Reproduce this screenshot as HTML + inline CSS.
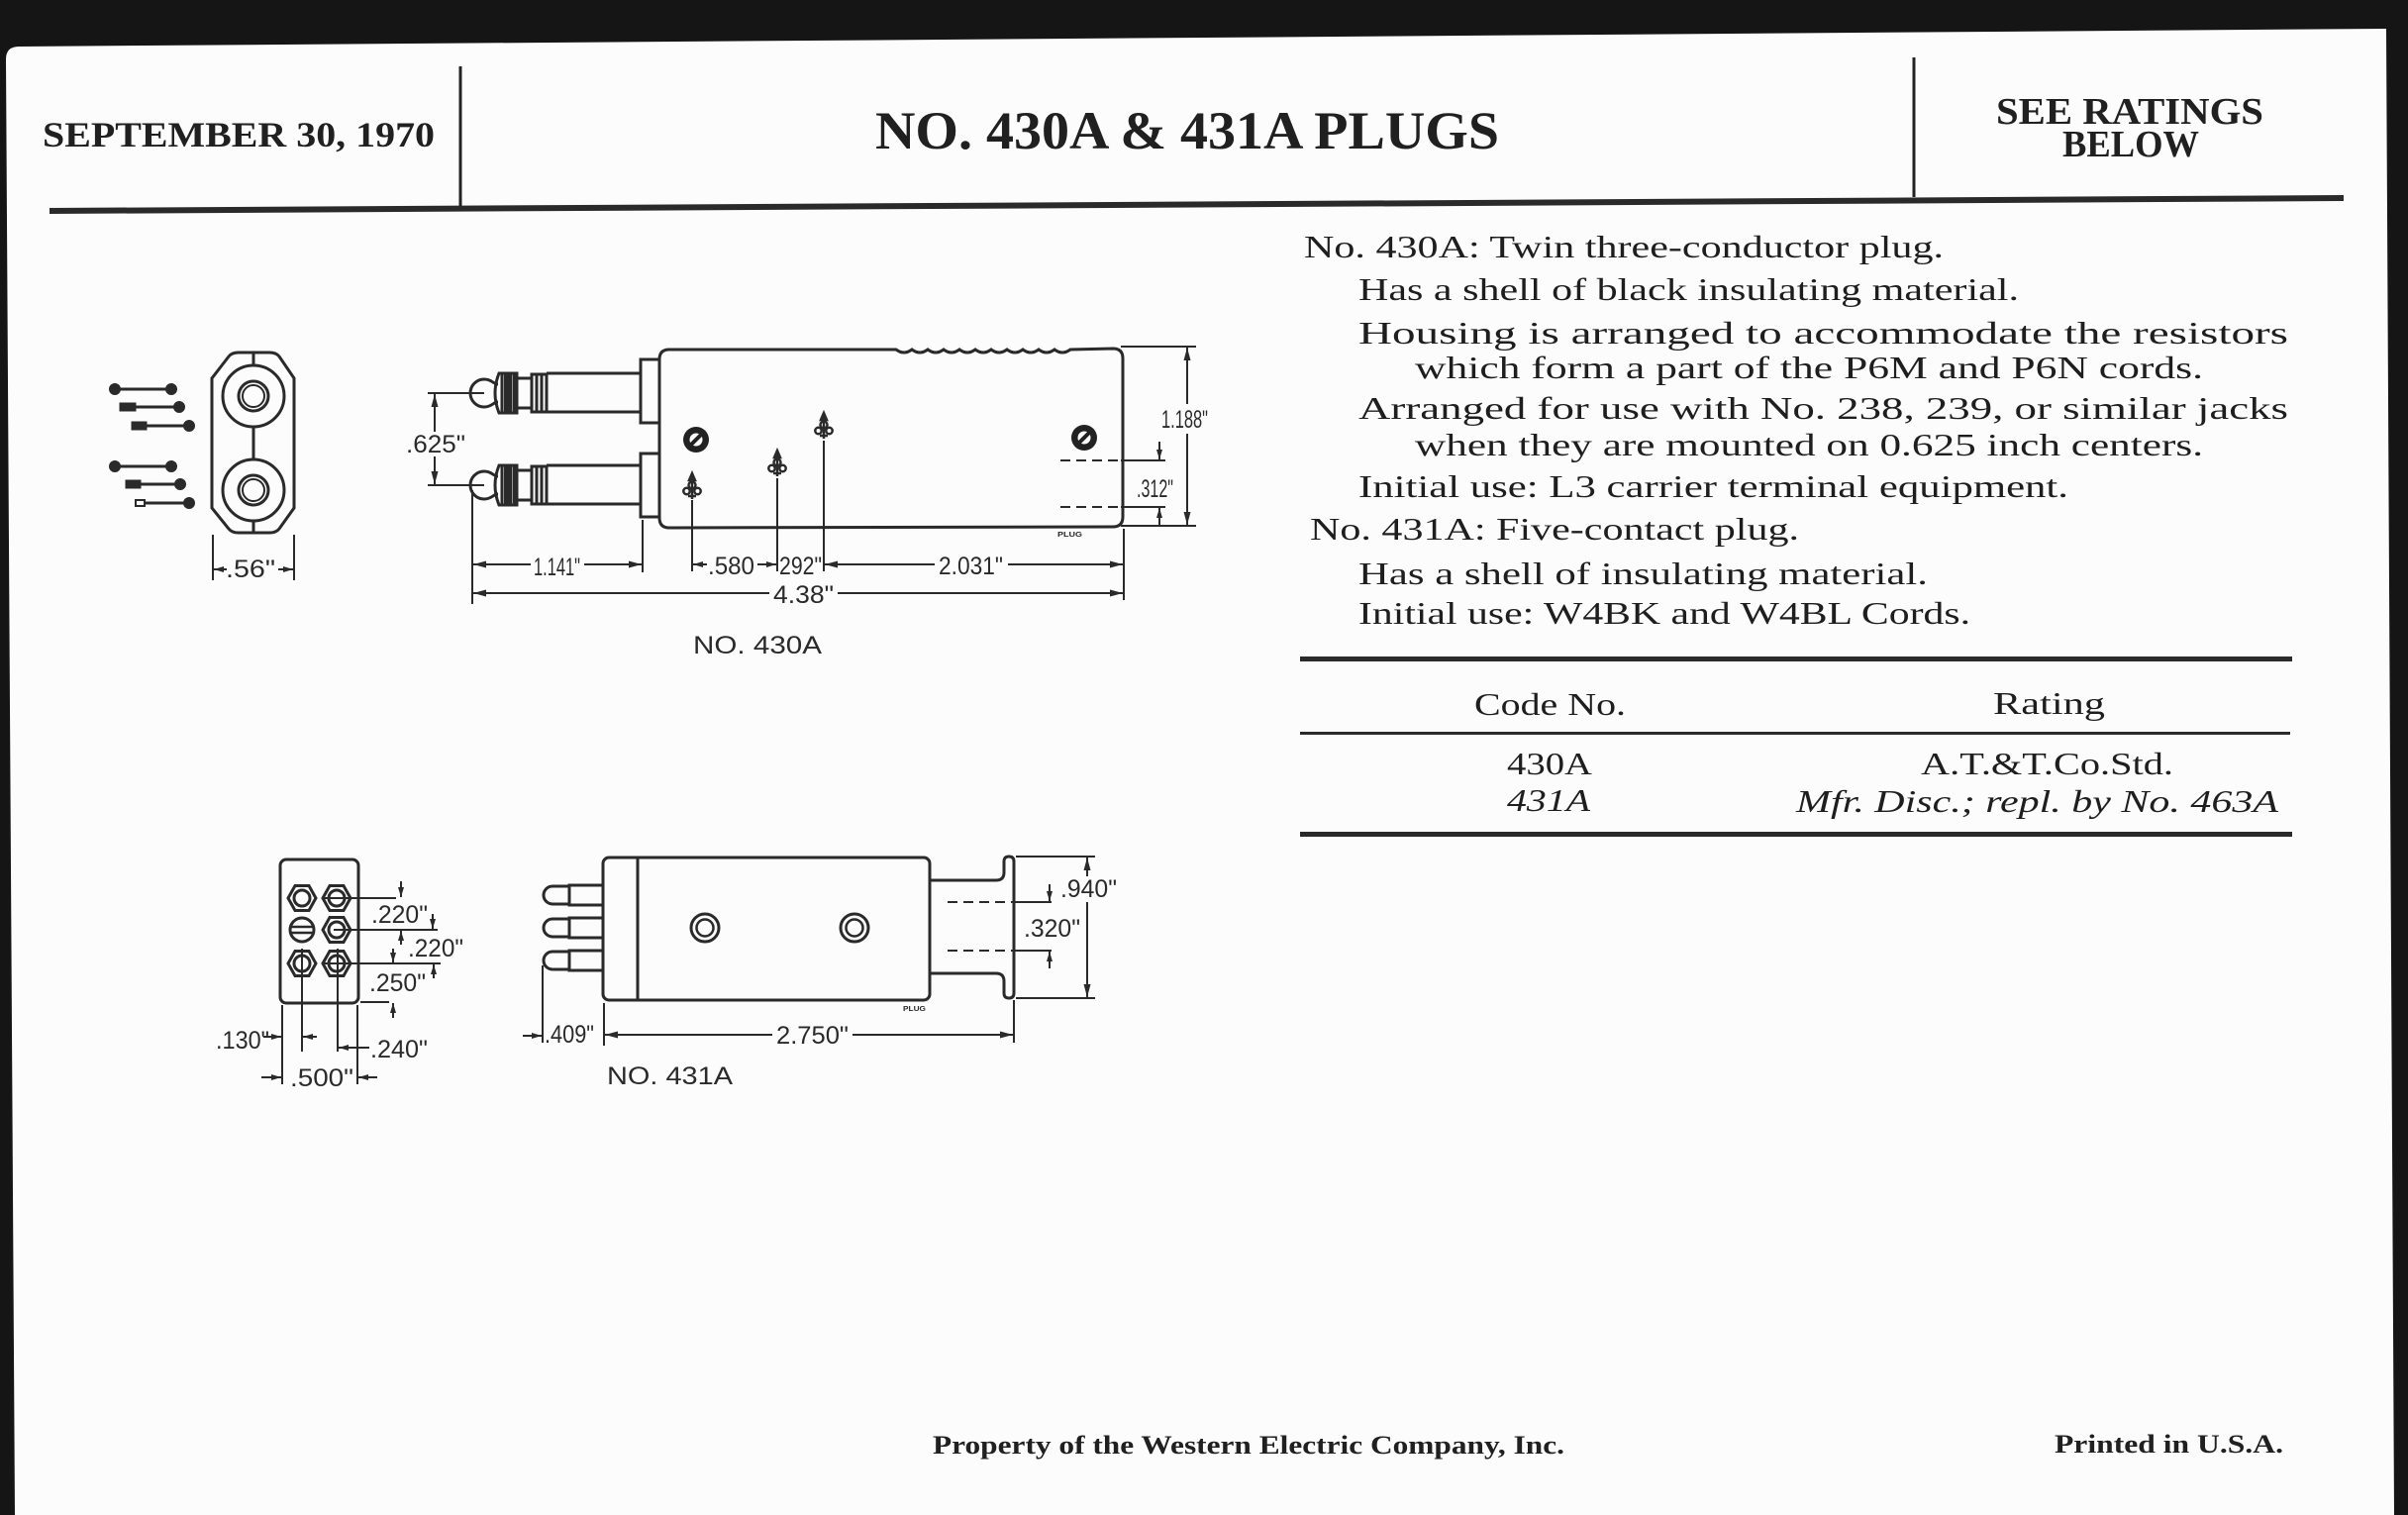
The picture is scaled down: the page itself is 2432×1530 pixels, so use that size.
<!DOCTYPE html>
<html><head><meta charset="utf-8"><style>
html,body{margin:0;padding:0;background:#151515}
svg{display:block}
.h{font-family:"Liberation Serif",serif;font-weight:bold;fill:#202020}
.b{font-family:"Liberation Serif",serif;fill:#1e1e1e;font-size:32px}
.i{font-style:italic}
.l{font-family:"Liberation Sans",sans-serif;fill:#2a2a2a;font-size:25px}
.d{stroke:#2a2a2a;stroke-width:2;fill:none}
.o{stroke:#2a2a2a;stroke-width:3;fill:none}
</style></head><body>
<svg width="2432" height="1530" viewBox="0 0 2432 1530" xmlns="http://www.w3.org/2000/svg">
<defs>
<marker id="ar" viewBox="0 0 13 8" refX="13" refY="4" markerWidth="13" markerHeight="8" markerUnits="userSpaceOnUse" orient="auto"><path d="M0,0.5 L13,4 L0,7.5 Z" fill="#2a2a2a"/></marker>
<marker id="as" viewBox="0 0 10 7" refX="10" refY="3.5" markerWidth="10" markerHeight="7" markerUnits="userSpaceOnUse" orient="auto"><path d="M0,0.5 L10,3.5 L0,6.5 Z" fill="#2a2a2a"/></marker>
<g id="fl" stroke="#2a2a2a" stroke-width="2.5" fill="none">
<path d="M0,-14 L-3,-7 L3,-7 Z" fill="#2a2a2a"/>
<circle cx="0" cy="-2" r="3.5"/>
<circle cx="-5.5" cy="4" r="3.2"/>
<circle cx="5.5" cy="4" r="3.2"/>
<line x1="0" y1="-14" x2="0" y2="12"/>
<line x1="-4" y1="9" x2="4" y2="9"/>
</g>
<g id="sc">
<circle r="13" fill="#222"/>
<circle r="6.5" fill="#fff"/>
<line x1="-8" y1="8" x2="8" y2="-8" stroke="#222" stroke-width="4"/>
</g>
<g id="pl" stroke="#2a2a2a" stroke-width="3" fill="none">
<path d="M503,-9 C498,-9 497,-14 489,-14 A14,14 0 0 0 489,14 C497,14 498,9 503,9"/>
<path d="M504,-20 L522,-20 L522,20 L504,20 Q500,10 500,0 Q500,-10 504,-20 Z"/>
<line x1="507" y1="-19" x2="507" y2="19"/>
<line x1="511" y1="-19" x2="511" y2="19" stroke-width="4"/>
<line x1="515" y1="-19" x2="515" y2="19" stroke-width="4"/>
<line x1="519" y1="-19" x2="519" y2="19"/>
<line x1="522" y1="-15" x2="537" y2="-15"/>
<line x1="522" y1="15" x2="537" y2="15"/>
<rect x="537" y="-19" width="15" height="38"/>
<line x1="542" y1="-18" x2="542" y2="18"/>
<line x1="547" y1="-18" x2="547" y2="18"/>
<path d="M552,-20 L647,-20 M552,19 L647,19"/>
</g>
<g id="pin" stroke="#2a2a2a" stroke-width="3" fill="none">
<path d="M575,-9 L558,-9 A9,9 0 0 0 558,9 L575,9"/>
<rect x="575" y="-10" width="34" height="20"/>
</g>
</defs>

<!-- paper -->
<rect width="2432" height="1530" fill="#151515"/>
<path d="M6,60 Q6,47 19,47 L2410,29 L2418,1530 L15,1530 Z" fill="#fcfcfc"/>

<!-- header -->
<line x1="465" y1="67" x2="465" y2="208" stroke="#222" stroke-width="3"/>
<line x1="1933" y1="58" x2="1933" y2="199" stroke="#222" stroke-width="3"/>
<path d="M50,210 L2367,197 L2367,203 L50,216 Z" fill="#2a2a2a"/>
<text class="h" x="43" y="148" font-size="36" textLength="396" lengthAdjust="spacingAndGlyphs">SEPTEMBER 30, 1970</text>
<text class="h" x="884" y="150" font-size="54" textLength="630" lengthAdjust="spacingAndGlyphs">NO. 430A &amp; 431A PLUGS</text>
<text class="h" x="2016" y="125" font-size="38" textLength="270" lengthAdjust="spacingAndGlyphs">SEE RATINGS</text>
<text class="h" x="2083" y="158" font-size="38" textLength="138" lengthAdjust="spacingAndGlyphs">BELOW</text>

<!-- description text -->
<text class="b" x="1317" y="260" textLength="646" lengthAdjust="spacingAndGlyphs">No. 430A: Twin three-conductor plug.</text>
<text class="b" x="1372" y="303" textLength="667" lengthAdjust="spacingAndGlyphs">Has a shell of black insulating material.</text>
<text class="b" x="1372" y="347" textLength="939" lengthAdjust="spacingAndGlyphs">Housing is arranged to accommodate the resistors</text>
<text class="b" x="1429" y="382" textLength="796" lengthAdjust="spacingAndGlyphs">which form a part of the P6M and P6N cords.</text>
<text class="b" x="1372" y="423" textLength="939" lengthAdjust="spacingAndGlyphs">Arranged for use with No. 238, 239, or similar jacks</text>
<text class="b" x="1429" y="460" textLength="796" lengthAdjust="spacingAndGlyphs">when they are mounted on 0.625 inch centers.</text>
<text class="b" x="1372" y="502" textLength="717" lengthAdjust="spacingAndGlyphs">Initial use: L3 carrier terminal equipment.</text>
<text class="b" x="1323" y="545" textLength="494" lengthAdjust="spacingAndGlyphs">No. 431A: Five-contact plug.</text>
<text class="b" x="1372" y="590" textLength="575" lengthAdjust="spacingAndGlyphs">Has a shell of insulating material.</text>
<text class="b" x="1372" y="630" textLength="618" lengthAdjust="spacingAndGlyphs">Initial use: W4BK and W4BL Cords.</text>

<!-- table -->
<rect x="1313" y="663" width="1002" height="5" fill="#2a2a2a"/>
<rect x="1313" y="739" width="1000" height="3" fill="#2a2a2a"/>
<rect x="1313" y="840" width="1002" height="5" fill="#2a2a2a"/>
<text class="b" x="1489" y="722" textLength="153" lengthAdjust="spacingAndGlyphs">Code No.</text>
<text class="b" x="2013" y="721" textLength="113" lengthAdjust="spacingAndGlyphs">Rating</text>
<text class="b" x="1522" y="782" textLength="86" lengthAdjust="spacingAndGlyphs">430A</text>
<text class="b" x="1940" y="782" textLength="255" lengthAdjust="spacingAndGlyphs">A.T.&amp;T.Co.Std.</text>
<text class="b i" x="1522" y="819" textLength="84" lengthAdjust="spacingAndGlyphs">431A</text>
<text class="b i" x="1814" y="820" textLength="487" lengthAdjust="spacingAndGlyphs">Mfr. Disc.; repl. by No. 463A</text>

<!-- footer -->
<text class="h" x="942" y="1468" font-size="26" textLength="638" lengthAdjust="spacingAndGlyphs">Property of the Western Electric Company, Inc.</text>
<text class="h" x="2075" y="1467" font-size="26" textLength="231" lengthAdjust="spacingAndGlyphs">Printed in U.S.A.</text>

<!-- ===== 430A ===== -->
<g stroke="#2a2a2a" stroke-width="3" fill="#2a2a2a">
<line x1="116" y1="393" x2="173" y2="393"/><circle cx="116" cy="393" r="4.5"/><circle cx="173" cy="393" r="4.5"/>
<line x1="130" y1="411" x2="181" y2="411"/><rect x="122" y="408" width="14" height="6"/><circle cx="181" cy="411" r="4.5"/>
<line x1="140" y1="430" x2="191" y2="430"/><rect x="134" y="427" width="13" height="6"/><circle cx="191" cy="430" r="4.5"/>
<line x1="116" y1="471" x2="173" y2="471"/><circle cx="116" cy="471" r="4.5"/><circle cx="173" cy="471" r="4.5"/>
<line x1="135" y1="489" x2="182" y2="489"/><rect x="128" y="486" width="13" height="6"/><circle cx="182" cy="489" r="4.5"/>
<line x1="146" y1="508" x2="191" y2="508"/><rect x="137" y="505" width="9" height="6" fill="none" stroke-width="2"/><circle cx="191" cy="508" r="4.5"/>
</g>
<g class="o">
<path d="M214,382 L231,360 Q234,356 241,356 L272,356 Q279,356 282,360 L297,382 L297,513 L282,534 Q279,538 272,538 L241,538 Q234,538 231,534 L214,513 Z"/>
<circle cx="256" cy="400" r="31"/>
<circle cx="256" cy="400" r="15"/>
<circle cx="256" cy="400" r="11" stroke-width="2"/>
<circle cx="256" cy="495" r="31"/>
<circle cx="256" cy="495" r="15"/>
<circle cx="256" cy="495" r="11" stroke-width="2"/>
<line x1="256" y1="356" x2="256" y2="369"/>
<line x1="256" y1="431" x2="256" y2="464"/>
<line x1="256" y1="526" x2="256" y2="538"/>
</g>
<g class="d">
<line x1="215" y1="540" x2="215" y2="586"/>
<line x1="297" y1="540" x2="297" y2="586"/>
<line x1="229" y1="575" x2="216" y2="575" marker-end="url(#as)"/>
<line x1="281" y1="575" x2="296" y2="575" marker-end="url(#as)"/>
</g>
<text class="l" x="228" y="583" font-size="24" textLength="50" lengthAdjust="spacingAndGlyphs">.56"</text>

<use href="#pl" transform="translate(0,397)"/>
<use href="#pl" transform="translate(0,490)"/>
<g class="o">
<rect x="647" y="363" width="19" height="64"/>
<rect x="647" y="458" width="19" height="64"/>
<path d="M676,353 L905,353 q8,6 16,0 q8,6 16,0 q8,6 16,0 q8,6 16,0 q8,6 16,0 q8,6 16,0 q8,6 16,0 q8,6 16,0 q8,6 16,0 q8,6 16,0 q8,6 16,0 L1124,352 Q1134,352 1134,362 L1134,522 Q1134,532 1124,532 L676,533 Q666,533 666,523 L666,363 Q666,353 676,353 Z"/>
</g>
<use href="#sc" transform="translate(703,444)"/>
<use href="#sc" transform="translate(1095,442)"/>
<use href="#fl" transform="translate(699,492)"/>
<use href="#fl" transform="translate(785,469)"/>
<use href="#fl" transform="translate(832,431)"/>
<g class="d">
<line x1="432" y1="397" x2="489" y2="397"/>
<line x1="432" y1="490" x2="489" y2="490"/>
<line x1="439" y1="436" x2="439" y2="398" marker-end="url(#ar)"/>
<line x1="439" y1="461" x2="439" y2="489" marker-end="url(#ar)"/>
<line x1="477" y1="495" x2="477" y2="610"/>
<line x1="649" y1="525" x2="649" y2="578"/>
<line x1="699" y1="505" x2="699" y2="577"/>
<line x1="785" y1="483" x2="785" y2="577"/>
<line x1="832" y1="445" x2="832" y2="577"/>
<line x1="1135" y1="534" x2="1135" y2="606"/>
<line x1="1132" y1="350" x2="1208" y2="350"/>
<line x1="1132" y1="531" x2="1208" y2="531"/>
<line x1="536" y1="570" x2="478" y2="570" marker-end="url(#ar)"/>
<line x1="590" y1="570" x2="648" y2="570" marker-end="url(#ar)"/>
<line x1="714" y1="570" x2="700" y2="570" marker-end="url(#as)"/>
<line x1="765" y1="570" x2="784" y2="570" marker-end="url(#as)"/>
<line x1="944" y1="570" x2="833" y2="570" marker-end="url(#ar)"/>
<line x1="1018" y1="570" x2="1134" y2="570" marker-end="url(#ar)"/>
<line x1="777" y1="599" x2="478" y2="599" marker-end="url(#ar)"/>
<line x1="846" y1="599" x2="1134" y2="599" marker-end="url(#ar)"/>
<line x1="1199" y1="408" x2="1199" y2="351" marker-end="url(#ar)"/>
<line x1="1199" y1="438" x2="1199" y2="530" marker-end="url(#ar)"/>
<line x1="1071" y1="465" x2="1132" y2="465" stroke-dasharray="10,6"/>
<line x1="1132" y1="465" x2="1177" y2="465"/>
<line x1="1071" y1="512" x2="1132" y2="512" stroke-dasharray="10,6"/>
<line x1="1132" y1="512" x2="1177" y2="512"/>
<line x1="1171" y1="446" x2="1171" y2="464" marker-end="url(#as)"/>
<line x1="1171" y1="530" x2="1171" y2="513" marker-end="url(#as)"/>
</g>
<text class="l" x="410" y="457" textLength="60" lengthAdjust="spacingAndGlyphs">.625"</text>
<text class="l" x="539" y="581" font-size="23" textLength="47" lengthAdjust="spacingAndGlyphs">1.141"</text>
<text class="l" x="715" y="580" font-size="23" textLength="47" lengthAdjust="spacingAndGlyphs">.580</text>
<text class="l" x="787" y="580" font-size="23" textLength="43" lengthAdjust="spacingAndGlyphs">292"</text>
<text class="l" x="948" y="580" font-size="23" textLength="65" lengthAdjust="spacingAndGlyphs">2.031"</text>
<text class="l" x="781" y="609" font-size="25" textLength="61" lengthAdjust="spacingAndGlyphs">4.38"</text>
<text class="l" x="1173" y="432" font-size="24" textLength="47" lengthAdjust="spacingAndGlyphs">1.188"</text>
<text class="l" x="1148" y="502" font-size="21" textLength="37" lengthAdjust="spacingAndGlyphs">.312"</text>
<text x="1068" y="542" font-family="Liberation Sans, sans-serif" font-weight="bold" font-size="7" fill="#2a2a2a" textLength="25" lengthAdjust="spacingAndGlyphs">PLUG</text>
<text class="l" x="700" y="660" font-size="32" textLength="130" lengthAdjust="spacingAndGlyphs">NO. 430A</text>

<!-- ===== 431A ===== -->
<g class="o">
<rect x="283" y="868" width="79" height="145" rx="6"/>
<polygon points="291,907 298,894.5 312,894.5 319,907 312,919.5 298,919.5"/>
<circle cx="305" cy="907" r="8"/>
<polygon points="326,907 333,894.5 347,894.5 354,907 347,919.5 333,919.5"/>
<circle cx="340" cy="907" r="8"/>
<circle cx="305" cy="939" r="12"/>
<line x1="294" y1="936" x2="316" y2="936" stroke-width="2.5"/>
<line x1="294" y1="942" x2="316" y2="942" stroke-width="2.5"/>
<polygon points="326,939 333,926.5 347,926.5 354,939 347,951.5 333,951.5"/>
<circle cx="340" cy="939" r="8"/>
<polygon points="291,973 298,960.5 312,960.5 319,973 312,985.5 298,985.5"/>
<circle cx="305" cy="973" r="8"/>
<polygon points="326,973 333,960.5 347,960.5 354,973 347,985.5 333,985.5"/>
<circle cx="340" cy="973" r="8"/>
</g>
<g class="d">
<line x1="325" y1="907" x2="400" y2="907"/>
<line x1="337" y1="939" x2="442" y2="939"/>
<line x1="325" y1="973" x2="445" y2="973"/>
<line x1="364" y1="1012" x2="393" y2="1012"/>
<line x1="285" y1="1015" x2="285" y2="1095"/>
<line x1="305" y1="958" x2="305" y2="1062"/>
<line x1="341" y1="958" x2="341" y2="1062"/>
<line x1="361" y1="1015" x2="361" y2="1095"/>
<line x1="405" y1="890" x2="405" y2="906" marker-end="url(#as)"/>
<line x1="405" y1="954" x2="405" y2="940" marker-end="url(#as)"/>
<line x1="437" y1="923" x2="437" y2="938" marker-end="url(#as)"/>
<line x1="397" y1="958" x2="397" y2="972" marker-end="url(#as)"/>
<line x1="438" y1="988" x2="438" y2="974" marker-end="url(#as)"/>
<line x1="397" y1="1028" x2="397" y2="1013" marker-end="url(#as)"/>
<line x1="266" y1="1047" x2="284" y2="1047" marker-end="url(#as)"/>
<line x1="320" y1="1047" x2="306" y2="1047" marker-end="url(#as)"/>
<line x1="373" y1="1058" x2="342" y2="1058" marker-end="url(#as)"/>
<line x1="264" y1="1088" x2="284" y2="1088" marker-end="url(#as)"/>
<line x1="381" y1="1088" x2="362" y2="1088" marker-end="url(#as)"/>
</g>
<text class="l" x="375" y="932" font-size="24" textLength="57" lengthAdjust="spacingAndGlyphs">.220"</text>
<text class="l" x="412" y="966" font-size="24" textLength="56" lengthAdjust="spacingAndGlyphs">.220"</text>
<text class="l" x="373" y="1001" font-size="24" textLength="57" lengthAdjust="spacingAndGlyphs">.250"</text>
<text class="l" x="218" y="1059" font-size="24" textLength="54" lengthAdjust="spacingAndGlyphs">.130"</text>
<text class="l" x="374" y="1068" font-size="24" textLength="58" lengthAdjust="spacingAndGlyphs">.240"</text>
<text class="l" x="293" y="1097" font-size="24" textLength="64" lengthAdjust="spacingAndGlyphs">.500"</text>

<use href="#pin" transform="translate(0,904)"/>
<use href="#pin" transform="translate(0,937)"/>
<use href="#pin" transform="translate(0,970)"/>
<g class="o">
<rect x="609" y="866" width="330" height="144" rx="6"/>
<line x1="644" y1="866" x2="644" y2="1010"/>
<circle cx="712" cy="937" r="14"/>
<circle cx="712" cy="937" r="8.5" stroke-width="2.5"/>
<circle cx="863" cy="937" r="14"/>
<circle cx="863" cy="937" r="8.5" stroke-width="2.5"/>
<path d="M939,889 L1006,889 Q1014,889 1014,881 L1014,870 Q1014,865 1019,865 Q1024,865 1024,870 L1024,1003 Q1024,1008 1019,1008 Q1014,1008 1014,1003 L1014,991 Q1014,983 1006,983 L939,983"/>
</g>
<g class="d">
<line x1="957" y1="911" x2="1024" y2="911" stroke-dasharray="10,6"/>
<line x1="1024" y1="911" x2="1062" y2="911"/>
<line x1="957" y1="960" x2="1024" y2="960" stroke-dasharray="10,6"/>
<line x1="1024" y1="960" x2="1062" y2="960"/>
<line x1="1060" y1="893" x2="1060" y2="910" marker-end="url(#as)"/>
<line x1="1060" y1="978" x2="1060" y2="961" marker-end="url(#as)"/>
<line x1="1026" y1="865" x2="1106" y2="865"/>
<line x1="1026" y1="1008" x2="1106" y2="1008"/>
<line x1="1098" y1="885" x2="1098" y2="866" marker-end="url(#ar)"/>
<line x1="1098" y1="911" x2="1098" y2="1007" marker-end="url(#ar)"/>
<line x1="548" y1="975" x2="548" y2="1053"/>
<line x1="610" y1="1013" x2="610" y2="1056"/>
<line x1="1024" y1="1010" x2="1024" y2="1053"/>
<line x1="528" y1="1046" x2="547" y2="1046" marker-end="url(#as)"/>
<line x1="780" y1="1045" x2="611" y2="1045" marker-end="url(#ar)"/>
<line x1="861" y1="1045" x2="1023" y2="1045" marker-end="url(#ar)"/>
</g>
<text class="l" x="1071" y="906" font-size="24" textLength="57" lengthAdjust="spacingAndGlyphs">.940"</text>
<text class="l" x="1034" y="946" font-size="24" textLength="57" lengthAdjust="spacingAndGlyphs">.320"</text>
<text class="l" x="550" y="1053" font-size="23" textLength="50" lengthAdjust="spacingAndGlyphs">.409"</text>
<text class="l" x="784" y="1054" font-size="26" textLength="73" lengthAdjust="spacingAndGlyphs">2.750"</text>
<text x="912" y="1021" font-family="Liberation Sans, sans-serif" font-weight="bold" font-size="7" fill="#2a2a2a" textLength="23" lengthAdjust="spacingAndGlyphs">PLUG</text>
<text class="l" x="613" y="1095" font-size="31" textLength="127" lengthAdjust="spacingAndGlyphs">NO. 431A</text>
</svg>
</body></html>
